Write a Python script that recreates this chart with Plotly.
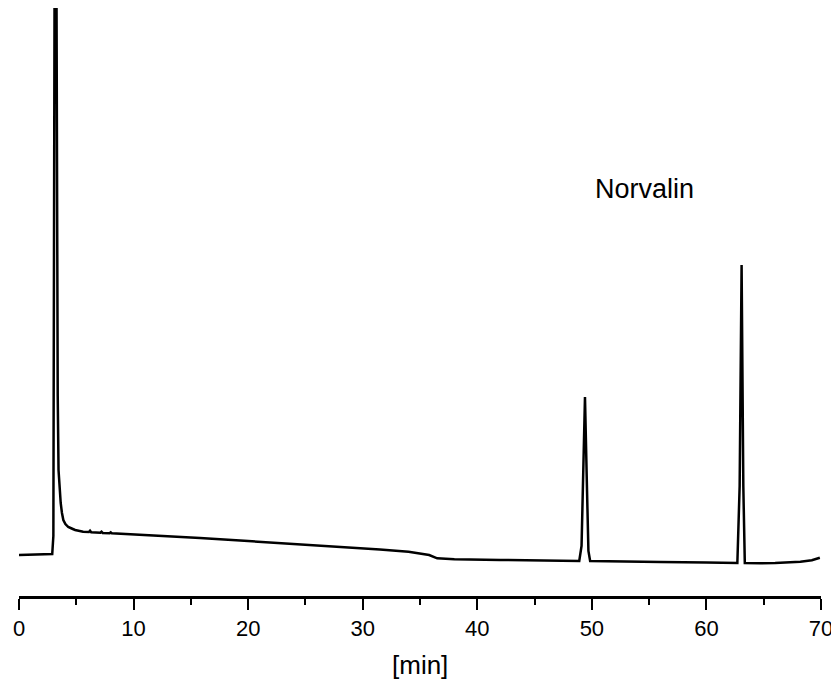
import plotly.graph_objects as go

# Retention time [min] and detector signal (arbitrary units)
time_min = [0.0, 1.5, 2.9, 3.0, 3.08, 3.14, 3.22, 3.3, 3.38, 3.45, 3.55, 3.64, 3.75, 3.87,
            4.05, 4.3, 4.6, 4.9, 5.3, 5.6, 6.1, 6.2, 6.3, 7.1, 7.2, 7.3, 7.9, 8.0, 8.1,
            10.0, 12.3, 15.8, 20.0, 25.0, 30.0, 31.5, 34.0, 35.1, 35.8, 36.5, 38.0,
            42.0, 45.0, 48.9, 49.1, 49.25, 49.4, 49.55, 49.7, 49.85, 52.0, 56.0, 60.0,
            62.7, 62.9, 63.07, 63.22, 63.35, 64.7, 66.0, 68.2, 69.2, 69.9]
signal = [41.0, 41.5, 42.0, 60.0, 400.0, 800.0, 800.0, 420.0, 200.0, 126.0, 105.0, 93.0, 83.0, 76.0,
          72.0, 69.0, 67.5, 66.0, 65.0, 64.3, 64.0, 65.3, 63.8, 63.3, 64.3, 63.1, 62.8, 63.6, 62.7,
          61.6, 60.3, 58.0, 55.0, 51.5, 48.0, 46.5, 44.2, 42.7, 41.0, 37.7, 36.8,
          36.0, 35.6, 35.0, 50.0, 120.0, 199.0, 120.0, 45.0, 35.0, 34.5, 34.0, 33.5,
          33.0, 110.0, 331.0, 110.0, 33.0, 32.7, 33.0, 34.3, 35.8, 38.3]

x_ticks = [0, 10, 20, 30, 40, 50, 60, 70]
peak_label = "Norvalin"
peak_label_pos = (54.6, 407)
x_title = "[min]"

FONT = "Liberation Sans, Arial, sans-serif"

fig = go.Figure()
fig.add_trace(go.Scatter(
    x=time_min, y=signal, mode="lines",
    line=dict(color="black", width=2.5),
    showlegend=False, hoverinfo="skip",
))

fig.add_annotation(
    x=peak_label_pos[0], y=peak_label_pos[1], xref="x", yref="y",
    text=peak_label, showarrow=False,
    font=dict(family=FONT, size=27, color="black"),
    xanchor="center", yanchor="middle",
)
fig.add_annotation(
    x=35, y=-0.117, xref="x", yref="paper",
    text=x_title, showarrow=False,
    font=dict(family=FONT, size=26, color="black"),
    xanchor="center", yanchor="middle",
)

# page body has an 8px default margin; size/margins compensate so plot area lands at x 19-821, y 8-596
fig.update_layout(
    width=831, height=683,
    margin=dict(l=11, r=18, t=0, b=95),
    paper_bgcolor="white", plot_bgcolor="white",
    font=dict(family=FONT, size=21, color="black"),
    xaxis=dict(
        range=[0, 70], tickvals=x_ticks, ticktext=[str(v) for v in x_ticks],
        showline=True, linecolor="black", linewidth=2.5,
        ticks="outside", ticklen=11, tickwidth=2, tickcolor="black",
        minor=dict(dtick=5, tick0=0, ticks="outside", ticklen=6, tickwidth=2, tickcolor="black", showgrid=False),
        showgrid=False, zeroline=False,
        tickfont=dict(family=FONT, size=22, color="black"),
    ),
    yaxis=dict(
        range=[0, 588], visible=False, showgrid=False, zeroline=False,
    ),
)

fig.write_html("out.html")
